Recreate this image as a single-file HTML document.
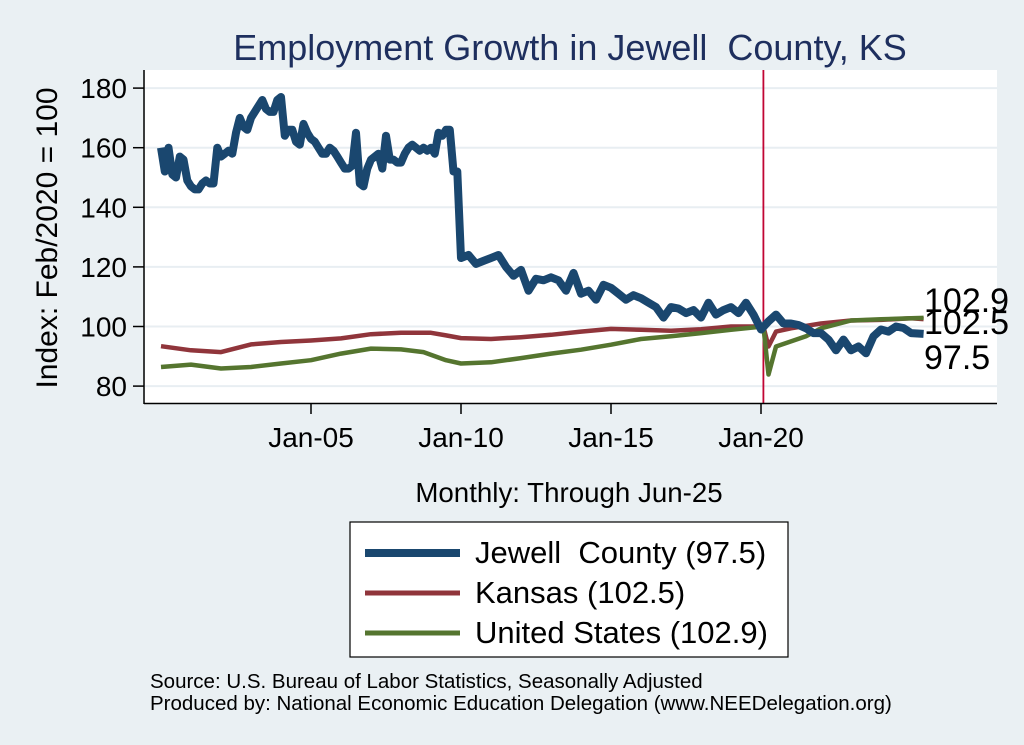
<!DOCTYPE html>
<html><head><meta charset="utf-8"><style>
body{margin:0;background:#eaf0f3;}
svg{display:block;font-family:"Liberation Sans",sans-serif;}
</style></head><body>
<svg id="chart" width="1024" height="745">
<rect x="0" y="0" width="1024" height="745" fill="#eaf0f3"/>
<rect x="145" y="70" width="852" height="333" fill="#ffffff"/>
<text x="570" y="60" font-size="36" fill="#1e2f5e" text-anchor="middle" xml:space="preserve">Employment Growth in Jewell &#160;County, KS</text>
<text transform="translate(57,238) rotate(-90)" font-size="30" text-anchor="middle" fill="#000">Index: Feb/2020 = 100</text>
<text x="569" y="502" font-size="27.7" text-anchor="middle">Monthly: Through Jun-25</text>
<g id="grid"></g><g id="yticks"></g><g id="xticks"></g><g id="series"></g>
<line x1="144" y1="70" x2="144" y2="404" stroke="#000" stroke-width="1.5"/>
<line x1="144" y1="403.5" x2="997" y2="403.5" stroke="#000" stroke-width="1.5"/>
<g id="endlabels"></g>
<rect x="350" y="522" width="438" height="135" fill="#fff" stroke="#000" stroke-width="1.2"/>
<g><line x1="365" y1="553" x2="460" y2="553" stroke="#1a476f" stroke-width="8"/><text x="475" y="563" font-size="31">Jewell &#160;County (97.5)</text></g>
<g><line x1="365" y1="593" x2="460" y2="593" stroke="#90353b" stroke-width="5"/><text x="475" y="603" font-size="31">Kansas (102.5)</text></g>
<g><line x1="365" y1="633" x2="460" y2="633" stroke="#55752f" stroke-width="5"/><text x="475" y="643" font-size="31">United States (102.9)</text></g>
<text x="150" y="688" font-size="20.5">Source: U.S. Bureau of Labor Statistics, Seasonally Adjusted</text>
<text x="150" y="710" font-size="20.5">Produced by: National Economic Education Delegation (www.NEEDelegation.org)</text>
</svg>
<script>
const yTicks=[80,100,120,140,160,180];
const xTickYears=[2005,2010,2015,2020];
const xTickLabels=["Jan-05","Jan-10","Jan-15","Jan-20"];
const jewellEarly=[160,152,160,151,150,157,156,149, 147,146,146,148,149,148,148,160, 157,158,159,158,165,170,167,166, 170,172,174,176,173,172,172,176, 177,164,166,166,162,161,168,165, 163,162,160,158,158,160,159,157, 155,153,153,154,165,148,147,153, 156,157,158,153,164,156,156,155, 155,158,160,161,160,159,160,159, 160,158,165,164,166,166,152,152];
const jewellLate=[123,124,121,122, 123,124,120,117, 119,112,116,115.5, 116.5,115.5,112,118, 111,112,109,114, 113,111,109,110.5, 109.5,108,106.5,103, 106.5,106,104.5,105.5, 103,108,104,105.5, 106.5,104.5,108,104, 99,101.7,104,101, 101,100.5,99.4,97.8, 97.8,95.6,92,95.6, 92,93.3,91,96.7, 99,98.3,100,99.5, 97.8,97.5];
const ksDates=[2000,2001,2002,2003,2004,2005,2006,2007,2008,2009,2009.5,2010,2011,2012,2013,2014,2015,2016,2017,2018,2019,2020.08,2020.25,2020.5,2021,2022,2023,2024,2025,2025.42];
const ksValues=[93.4,92,91.4,94,94.8,95.3,96,97.4,97.9,97.9,97,96.1,95.8,96.4,97.2,98.3,99.2,98.9,98.6,99.1,100,100,93.3,98.3,99.4,101,102,102.2,102.8,102.5];
const usDates=[2000,2001,2002,2003,2004,2005,2006,2007,2008,2008.75,2009.5,2010,2011,2012,2013,2014,2015,2016,2017,2018,2019,2020.08,2020.25,2020.5,2021,2021.5,2022,2023,2024,2025,2025.42];
const usValues=[86.4,87.2,85.9,86.4,87.6,88.7,90.9,92.6,92.3,91.4,88.7,87.6,88,89.4,90.9,92.2,93.9,95.8,96.7,97.8,98.9,100,83.9,93.3,95,96.7,99.4,102,102.4,102.8,102.9];
const endValues=[102.9,102.5,97.5];

const NS="http://www.w3.org/2000/svg";
function X(yr){return 161+(yr-2000)*30;}
function Y(v){return 326.5-(v-100)*2.98;}
function mk(tag,attrs,parent){const e=document.createElementNS(NS,tag);for(const k in attrs)e.setAttribute(k,attrs[k]);document.getElementById(parent).appendChild(e);return e;}

yTicks.forEach(v=>{
  const g=mk('line',{x1:145,x2:997,y1:Y(v),y2:Y(v),stroke:'#e8eef2','stroke-width':2},'grid');
  
  
  const t=mk('line',{x1:133,x2:144,y1:Y(v),y2:Y(v),stroke:'#000','stroke-width':1.5},'yticks');
  
  
  const l=mk('text',{x:127,y:Y(v)+10,'font-size':28,'text-anchor':'end'},'yticks');
  l.textContent=v;
  
  
});
xTickYears.forEach((yr,i)=>{
  const t=mk('line',{x1:X(yr),x2:X(yr),y1:403,y2:414,stroke:'#000','stroke-width':1.5},'xticks');
  
  
  const l=mk('text',{x:X(yr),y:447,'font-size':28,'text-anchor':'middle'},'xticks');
  l.textContent=xTickLabels[i];
  
  
});
const vl=mk('line',{x1:X(2020.08),x2:X(2020.08),y1:70,y2:403,stroke:'#c10534','stroke-width':1.8},'series');



function path(ds,vs){return ds.map((d,i)=>(i?'L':'M')+X(d).toFixed(1)+' '+Y(vs[i]).toFixed(1)).join(' ');}
const ks=mk('path',{d:path(ksDates,ksValues),fill:'none',stroke:'#90353b','stroke-width':4.5,'stroke-linejoin':'round'},'series');


const us=mk('path',{d:path(usDates,usValues),fill:'none',stroke:'#55752f','stroke-width':4.5,'stroke-linejoin':'round'},'series');


const jd=[],jv=[];
jewellEarly.forEach((v,i)=>{jd.push(2000+i/8);jv.push(v);});
jewellLate.forEach((v,i)=>{jd.push(i===jewellLate.length-1?2025.42:2010+i/4);jv.push(v);});
const jw=mk('path',{d:path(jd,jv),fill:'none',stroke:'#1a476f','stroke-width':8,'stroke-linejoin':'round'},'series');



const labY=[300,322,357];
endValues.forEach((v,i)=>{
  const t=mk('text',{x:924,y:labY[i]+12,'font-size':34},'endlabels');
  t.textContent=v.toFixed(1);
  
  
});
</script>
</body></html>
